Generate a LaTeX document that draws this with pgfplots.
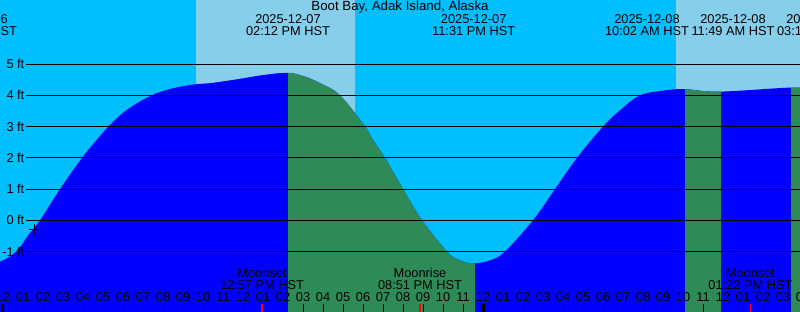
\documentclass[border=0pt]{standalone}
\usepackage{pgfplots}
\usepackage{pgfplotstable}
\pgfplotsset{compat=1.18}
\usepackage{fontspec}
\setmainfont{Liberation Sans}
\definecolor{night}{HTML}{00BFFF}
\definecolor{day}{HTML}{87CEEB}
\definecolor{rise}{HTML}{0000FF}
\definecolor{fall}{HTML}{2E8B57}
% tide curve (hours since 2025-12-07 00:00 HST, ft)
\pgfplotstableread{
h ft
-1.4 -1.45
-0.15 -1.32
0.69 -0.98
1.27 -0.47
1.85 0
2.85 1
3.95 2
4.68 2.57
5.27 3.0
6.18 3.53
7.43 4.0
8.52 4.23
9.68 4.36
10.35 4.39
11.85 4.53
13.0 4.65
14.2 4.72
15.0 4.62
15.85 4.39
16.85 4.0
18.1 3.0
18.5 2.57
19.1 2.0
20.0 1.0
20.95 0
22.2 -1.0
22.8 -1.27
23.52 -1.38
24.4 -1.27
25.1 -1.0
26.5 0
27.6 1
28.7 2
30.0 3
30.9 3.55
31.85 4
33.0 4.15
34.03 4.2
35.82 4.12
39.4 4.25
40.5 4.2
}\tide
\begin{document}
\begin{tikzpicture}[font=\fontsize{12.8}{14}\selectfont]
\begin{axis}[at={(0,0)}, anchor=south west, scale only axis, width=800pt, height=312pt,
  xmin=-0.15, xmax=39.85, ymin=-2.936, ymax=7.054, hide axis, clip=true]
% background night / day
\addplot[fill=night, draw=none] coordinates {(-1,-3.5) (-1,7.5) (41,7.5) (41,-3.5)} -- cycle;
\addplot[fill=day, draw=none] coordinates {(9.65,-3.5) (9.65,7.5) (17.6,7.5) (17.6,-3.5)} -- cycle;
\addplot[fill=day, draw=none] coordinates {(33.65,-3.5) (33.65,7.5) (41,7.5) (41,-3.5)} -- cycle;
% rising tide (whole curve), then falling parts on top
\addplot[fill=rise, draw=none, smooth, tension=0.6] table {\tide} -- (40.5,-3.5) -- (-1.4,-3.5) -- cycle;
\begin{scope}
\clip (14.25,-4) rectangle (23.6,8);
\addplot[fill=fall, draw=none, smooth, tension=0.6] table {\tide} -- (40.5,-3.5) -- (-1.4,-3.5) -- cycle;
\end{scope}
\begin{scope}
\clip (34.1,-4) rectangle (35.9,8);
\addplot[fill=fall, draw=none, smooth, tension=0.6] table {\tide} -- (40.5,-3.5) -- (-1.4,-3.5) -- cycle;
\end{scope}
\begin{scope}
\clip (39.4,-4) rectangle (41,8);
\addplot[fill=fall, draw=none, smooth, tension=0.6] table {\tide} -- (40.5,-3.5) -- (-1.4,-3.5) -- cycle;
\end{scope}
% ft lines
\pgfplotsinvokeforeach{-1,...,5}{\addplot[black, line width=1pt] coordinates {(1.15,#1) (41,#1)};}
% current-time marker
\addplot[only marks, mark=+, mark size=5pt, line width=1pt, black] coordinates {(1.55,-0.28)};
% hour ticks
\pgfplotsinvokeforeach{0,...,40}{\addplot[black, line width=1pt] coordinates {(#1,-3) (#1,-2.68)};}
\addplot[black, line width=3pt] coordinates {(0,-3) (0,-2.68)};
\addplot[black, line width=3pt] coordinates {(24,-3) (24,-2.68)};
\addplot[red, line width=1.5pt] coordinates {(12.95,-3) (12.95,-2.68)};
\addplot[red, line width=1.5pt] coordinates {(20.85,-3) (20.85,-2.68)};
\addplot[red, line width=1.5pt] coordinates {(37.37,-3) (37.37,-2.68)};
\end{axis}
% ft labels
\foreach \v in {-1,...,5} \node[anchor=east, inner sep=0] at (24.5pt, {(91.7+31.23*\v)*1pt}) {\v{} ft};
% hour labels
\foreach \h/\l in {0/12,1/01,2/02,3/03,4/04,5/05,6/06,7/07,8/08,9/09,10/10,11/11,12/12,13/01,14/02,15/03,16/04,17/05,18/06,19/07,20/08,21/09,22/10,23/11,24/12,25/01,26/02,27/03,28/04,29/05,30/06,31/07,32/08,33/09,34/10,35/11,36/12,37/01,38/02,39/03,40/04}
  \node[anchor=base, inner sep=0] at ({(3+20*\h)*1pt}, 10.3pt) {\l};
% title
\node[anchor=base, inner sep=0, font=\fontsize{13.3}{15}\selectfont] at (400pt, 301pt) {Boot Bay, Adak Island, Alaska};
% tide events
\foreach \x/\d/\t in {-25/2025-12-06/10:36 PM HST, 288/2025-12-07/02:12 PM HST, 473.7/2025-12-07/11:31 PM HST, 647/2025-12-08/10:02 AM HST, 733/2025-12-08/11:49 AM HST, 819/2025-12-08/03:14 PM HST}{
  \node[anchor=base, inner sep=0] at (\x pt, 288pt) {\d};
  \node[anchor=base, inner sep=0] at (\x pt, 276pt) {\t};
}
% moon events
\foreach \x/\e/\t in {262/Moonset/12:57 PM HST, 420/Moonrise/08:51 PM HST, 750.4/Moonset/01:22 PM HST}{
  \node[anchor=base, inner sep=0] at (\x pt, 34.3pt) {\e};
  \node[anchor=base, inner sep=0] at (\x pt, 22.7pt) {\t};
}
\pgfresetboundingbox
\useasboundingbox (0,0) rectangle (800pt,312pt);
\end{tikzpicture}
\end{document}
